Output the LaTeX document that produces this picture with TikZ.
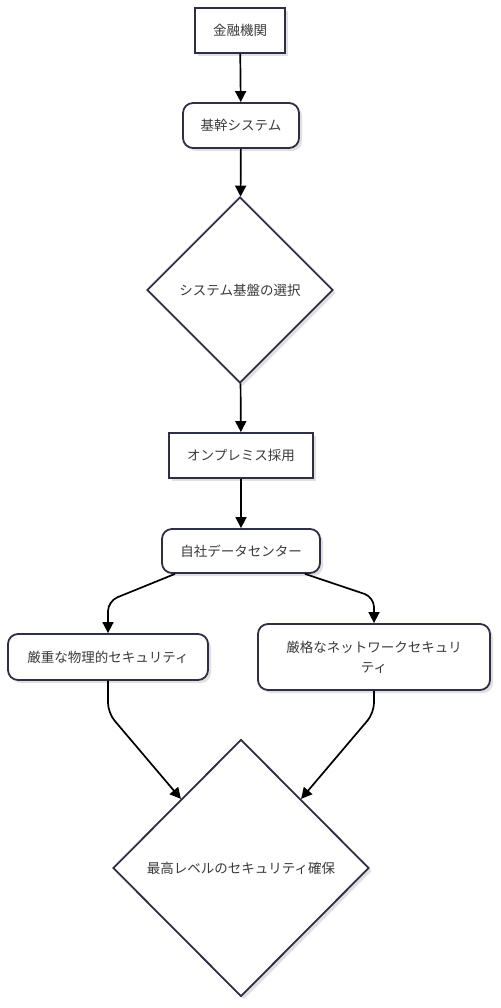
\documentclass[tikz,border=0pt]{standalone}
\usepackage{fontspec}
\setmainfont{Noto Sans CJK JP}
\usepackage{xcolor}
\usepackage{tikz}
\usetikzlibrary{arrows.meta,shadows,shapes.geometric,positioning,calc}
\definecolor{boxline}{HTML}{2E2E44}
\definecolor{boxtext}{HTML}{3A3A3A}

\begin{document}
\begin{tikzpicture}[x=1pt,y=-1pt,
  font=\fontsize{13.5}{20}\selectfont,
  every node/.style={text=boxtext},
  base/.style={draw=boxline,line width=1.8pt,fill=white,
    drop shadow={shadow xshift=3pt,shadow yshift=-3pt,fill=black!12,opacity=1}},
  plain/.style={base,rectangle,minimum height=45pt},
  round/.style={base,rectangle,rounded corners=10pt,minimum height=45pt},
  choice/.style={base,diamond,inner sep=0pt},
  flow/.style={draw=black,line width=1.7pt,rounded corners=10pt,
    -{Triangle[length=11pt,width=11pt]}}]
 \useasboundingbox (0,0) rectangle (500,1008);
 % nodes
 \node[plain,minimum width=90pt] (inst) at (240,30.5) {金融機関};
 \node[round,minimum width=116pt] (core) at (241,125.5) {基幹システム};
 \node[choice,minimum width=186pt,minimum height=186pt] (base) at (240,290) {システム基盤の選択};
 \node[plain,minimum width=144pt] (onprem) at (241,455.5) {オンプレミス採用};
 \node[round,minimum width=158pt,minimum height=44pt] (dc) at (241,551) {自社データセンター};
 \node[round,minimum width=200pt,minimum height=46pt] (phys) at (108,657) {厳重な物理的セキュリティ};
 \node[round,minimum width=232pt,minimum height=66pt,align=center] (net) at (374,657)
   {厳格なネットワークセキュリ\\ティ};
 \node[choice,minimum width=256pt,minimum height=257pt] (goal) at (241,868) {最高レベルのセキュリティ確保};
 % connectors
 \draw[flow] (inst) -- (core);
 \draw[flow] (core) -- (base);
 \draw[flow] (base) -- (onprem);
 \draw[flow] (onprem) -- (dc);
 \draw[flow] ([xshift=-66pt]dc.south) -- ([yshift=32pt]phys.north) -- (phys.north);
 \draw[flow] ([xshift=64pt]dc.south) -- ([yshift=26pt]net.north) -- (net.north);
 \draw[flow] (phys.south) -- ([yshift=-32pt]phys.south) -- (goal.131);
 \draw[flow] (net.south) -- ([yshift=-22pt]net.south) -- (goal.49);
\end{tikzpicture}
\end{document}
